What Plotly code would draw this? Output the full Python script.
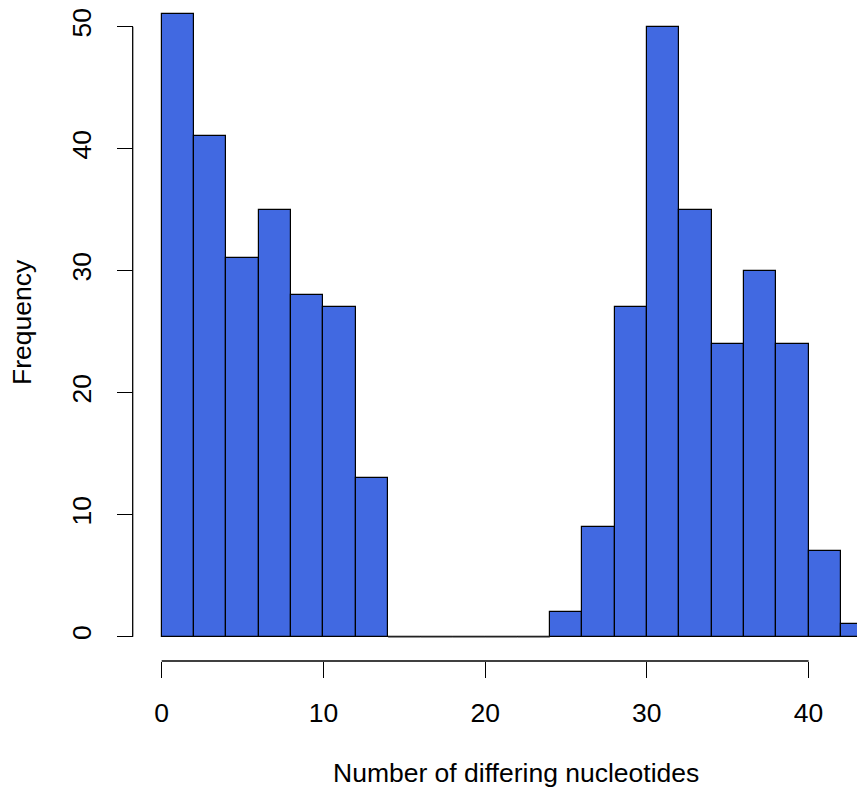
import plotly.graph_objects as go

# Histogram data: bin edges (width 2) and counts
bin_starts = [0, 2, 4, 6, 8, 10, 12, 14, 16, 18, 20, 22, 24, 26, 28, 30, 32, 34, 36, 38, 40, 42]
counts = [51, 41, 31, 35, 28, 27, 13, 0, 0, 0, 0, 0, 2, 9, 27, 50, 35, 24, 30, 24, 7, 1]
bin_width = 2
x_ticks = [0, 10, 20, 30, 40]
y_ticks = [0, 10, 20, 30, 40, 50]
x_title = "Number of differing nucleotides"
y_title = "Frequency"

# page body has an 8px margin, so the figure is drawn 8px in from the corner
W, H = 857, 784
FONT = "Liberation Sans, Arial, Helvetica, sans-serif"
FS = 26.5

centers = [s + bin_width / 2 for s in bin_starts]

fig = go.Figure()
fig.add_trace(go.Bar(
    x=centers, y=counts, width=bin_width,
    marker=dict(color="#4169E1", line=dict(color="black", width=1.2)),
    hoverinfo="x+y", showlegend=False,
))

# zero-count bins drawn as flat outlines on the baseline (like R's hist)
zx, zy = [], []
for s, c in zip(bin_starts, counts):
    if c == 0:
        zx += [s, s + bin_width, None]
        zy += [0, 0, None]
fig.add_trace(go.Scatter(x=zx, y=zy, mode="lines",
                         line=dict(color="#222222", width=1.5),
                         hoverinfo="skip", showlegend=False))

x_pos = 1 - 653 / H
y_pos = 124.7 / W

fig.update_layout(
    width=W, height=H,
    margin=dict(l=0, r=0, t=0, b=0),
    paper_bgcolor="white", plot_bgcolor="white",
    font=dict(family=FONT, size=FS, color="black"),
    bargap=0,
    xaxis=dict(
        range=[-9.505, 43.49], domain=[0, 1], anchor="free", position=x_pos,
        showgrid=False, zeroline=False, showline=False,
        tickvals=x_ticks, ticktext=[str(v) for v in x_ticks],
        ticks="outside", ticklen=16, tickwidth=1.3, tickcolor="black",
        ticklabelstandoff=12, automargin=False, ticklabeloverflow="allow",
        tickfont=dict(family=FONT, size=FS, color="black"),
    ),
    yaxis=dict(
        range=[-12.73, 51.53], domain=[0, 1], anchor="free", position=y_pos,
        showgrid=False, zeroline=False, showline=False,
        tickvals=y_ticks, ticktext=[str(v) for v in y_ticks],
        ticks="outside", ticklen=16, tickwidth=1.3, tickcolor="black",
        tickangle=-90, ticklabelstandoff=15, automargin=False,
        ticklabeloverflow="allow",
        tickfont=dict(family=FONT, size=FS, color="black"),
    ),
    shapes=[
        dict(type="line", xref="x", yref="paper", x0=x_ticks[0], x1=x_ticks[-1],
             y0=x_pos, y1=x_pos, line=dict(color="black", width=1.3)),
        dict(type="line", xref="paper", yref="y", x0=y_pos, x1=y_pos,
             y0=y_ticks[0], y1=y_ticks[-1], line=dict(color="black", width=1.3)),
    ],
    annotations=[
        dict(text=x_title, xref="paper", yref="paper", x=508 / W, y=1 - 765 / H,
             showarrow=False, xanchor="center", yanchor="middle",
             font=dict(family=FONT, size=FS, color="black")),
        dict(text=y_title, xref="paper", yref="paper", x=14 / W, y=1 - 314 / H,
             showarrow=False, xanchor="center", yanchor="middle", textangle=-90,
             font=dict(family=FONT, size=FS, color="black")),
    ],
)

fig.write_html("out.html")
